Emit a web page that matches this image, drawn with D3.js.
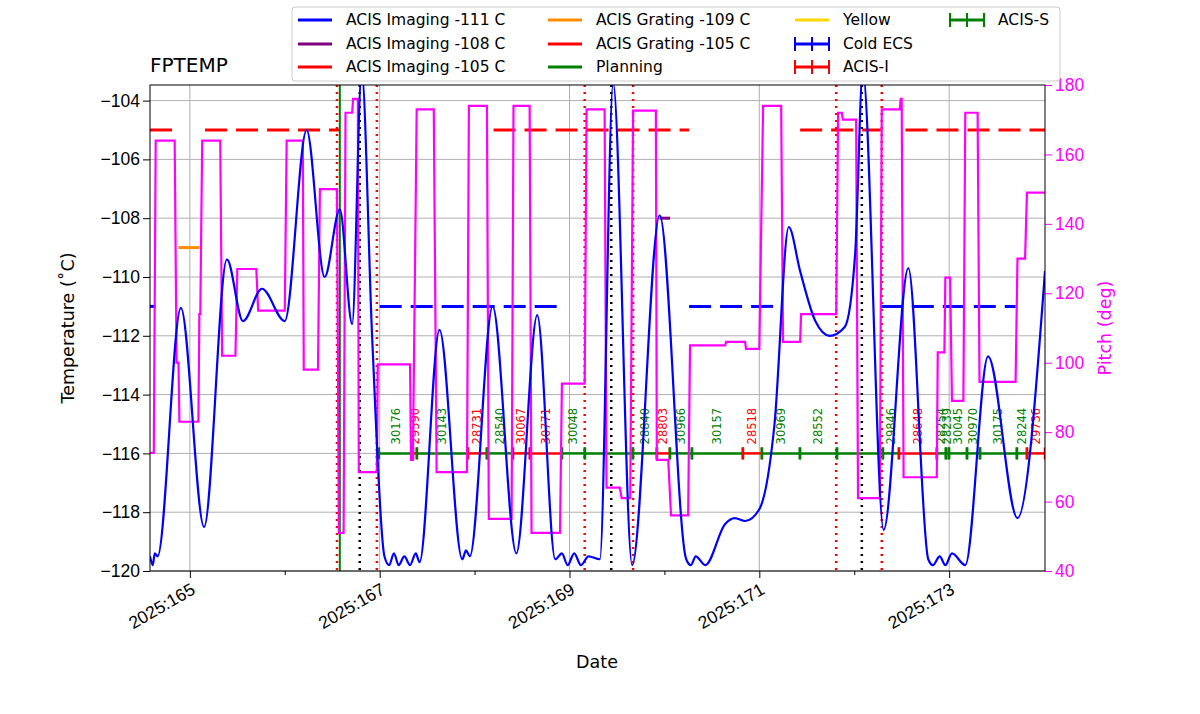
<!DOCTYPE html>
<html><head><meta charset="utf-8">
<script src="https://cdn.jsdelivr.net/npm/d3@7"></script>
<style>body{margin:0;background:#fff}svg{font-family:"DejaVu Sans",sans-serif}</style>
</head><body><svg id="c" width="1200" height="714"></svg>
<script>
// temperature trace (day of year, deg C)
const tempDays = [164.58,164.61,164.63,164.66,164.905,165.15,165.39,165.56,165.76,166.0,166.23,166.42,166.58,166.71,166.81,166.92,167.05,167.1,167.15,167.2,167.26,167.32,167.38,167.42,167.63,167.87,167.91,167.95,168.19,168.44,168.66,168.85,168.92,168.98,169.05,169.12,169.2,169.32,169.46,169.66,169.95,170.23,170.28,170.33,170.43,170.64,170.74,170.85,171.0,171.16,171.31,171.43,171.59,171.74,171.9,172.01,172.09,172.31,172.57,172.78,172.83,172.9,172.96,173.03,173.17,173.41,173.72,174.01];
const tempVals = [-119.5,-119.8,-119.4,-119.5,-111.05,-118.5,-109.4,-111.5,-110.4,-111.5,-105.0,-110.0,-107.7,-111.6,-103.0,-112.0,-119.5,-119.8,-119.4,-119.8,-119.5,-119.8,-119.4,-119.7,-111.8,-119.6,-119.3,-119.5,-111.0,-119.4,-111.3,-119.6,-119.4,-119.8,-119.4,-119.8,-119.5,-119.6,-103.4,-119.8,-107.9,-119.6,-119.8,-119.5,-119.8,-118.4,-118.2,-118.3,-117.9,-115.0,-108.3,-109.8,-111.5,-112.0,-111.7,-109.2,-103.0,-118.6,-109.7,-119.6,-119.8,-119.5,-119.8,-119.4,-119.8,-112.7,-118.2,-109.8];

// pitch steps [start day, end day, pitch deg]
const pitchSteps = [[164.58,164.62,74],[164.64,164.84,164],[164.86,164.88,100],[164.89,165.09,83],[165.10,165.11,114],[165.13,165.32,164],[165.34,165.48,102],[165.50,165.70,127],[165.72,166.0,115],[166.02,166.19,164],[166.20,166.35,98],[166.37,166.55,150],[166.57,166.62,51],[166.64,166.71,172],[166.72,166.77,176],[166.78,166.97,68.5],[166.98,167.32,99.5],[167.33,167.35,72],[167.39,167.57,173],[167.60,167.92,68.5],[167.94,168.13,174],[168.15,168.39,55],[168.41,168.58,174],[168.60,168.90,51],[168.92,169.16,94],[169.18,169.37,173],[169.39,169.53,64],[169.55,169.64,61],[169.67,169.91,172.6],[169.92,170.04,72],[170.07,170.25,56],[170.27,170.64,105],[170.65,170.85,106],[170.86,171.0,104],[171.04,171.23,174],[171.25,171.43,106],[171.44,171.81,114],[171.83,171.87,172],[171.88,172.02,170],[172.04,172.27,61],[172.29,172.48,173],[172.49,172.50,176],[172.52,172.87,67],[172.88,172.95,103],[172.96,173.01,124.5],[173.03,173.15,89],[173.17,173.30,172],[173.32,173.70,94.5],[173.72,173.80,130],[173.82,174.01,149]];

// limit segments [start, end]
const limRed105 = [[164.58,164.85],[165.16,166.58],[168.2,170.26],[171.43,172.28],[172.54,174.01]];
const limBlue111 = [[164.58,164.64],[167.0,168.96],[170.26,171.2],[172.28,173.7]];
const limOrange109 = [[164.88,165.1]];
const limPurple108 = [[169.95,170.06]];

const redDotted = [166.55,166.97,169.16,169.67,171.81,172.29];
const blackDotted = [166.79,169.44,172.08];
const planning = [166.58];

// observations [start, end, obsid, instrument]
const obs = [[166.992,167.350,"30176","S"],[167.350,167.392,"29590","I"],[167.392,167.929,"30143","S"],[167.929,168.130,"28731","I"],[168.130,168.404,"28540","S"],[168.404,168.583,"30067","I"],[168.583,168.920,"30771","I"],[168.920,169.162,"30048","S"],[169.162,169.668,"","S"],[169.668,169.921,"28840","S"],[169.921,170.058,"28803","I"],[170.058,170.290,"30966","S"],[170.290,170.827,"30157","S"],[170.827,171.027,"28518","I"],[171.027,171.428,"30969","S"],[171.428,171.818,"28552","S"],[171.818,172.302,"","S"],[172.302,172.471,"29846","S"],[172.471,172.871,"28648","I"],[172.871,172.966,"28254","S"],[172.966,172.998,"28239","S"],[172.998,173.188,"30045","S"],[173.188,173.325,"30970","S"],[173.325,173.714,"30175","S"],[173.714,173.820,"28244","S"],[173.820,174.01,"29736","I"]];

const xTicks = [165,167,169,171,173];
const yTicks = [-120,-118,-116,-114,-112,-110,-108,-106,-104];
const pTicks = [40,60,80,100,120,140,160,180];

const svg = d3.select('#c');
const L = 150, R = 1045, T = 85, B = 571;
const x = d3.scaleLinear().domain([164.58, 174.01]).range([L, R]);
const y = d3.scaleLinear().domain([-120, -103.47]).range([B, T]);
const yp = d3.scaleLinear().domain([40, 180]).range([B, T]);
const minus = v => String(v).replace('-', '\u2212');

// grid
const g = svg.append('g');
g.selectAll('.gx').data(xTicks).join('line').attr('x1', d => x(d)).attr('x2', d => x(d)).attr('y1', T).attr('y2', B).attr('stroke', '#b0b0b0');
g.selectAll('.gy').data(yTicks).join('line').attr('y1', d => y(d)).attr('y2', d => y(d)).attr('x1', L).attr('x2', R).attr('stroke', '#b0b0b0');

const plot = svg.append('g');
svg.append('clipPath').attr('id', 'clip').append('rect').attr('x', L).attr('y', T).attr('width', R - L).attr('height', B - T);
plot.attr('clip-path', 'url(#clip)');

// limits
const drawLim = (segs, v, col) => plot.selectAll(null).data(segs).join('line')
  .attr('x1', d => x(d[0])).attr('x2', d => x(d[1])).attr('y1', y(v)).attr('y2', y(v))
  .attr('stroke', col).attr('stroke-width', 3).attr('stroke-dasharray', '22,9');
drawLim(limRed105, -105, 'red');
drawLim(limBlue111, -111, 'blue');
drawLim(limOrange109, -109, 'darkorange');
drawLim(limPurple108, -108, 'purple');

// vertical lines
plot.selectAll(null).data(redDotted).join('line').attr('x1', d => x(d)).attr('x2', d => x(d)).attr('y1', T).attr('y2', B)
  .attr('stroke', 'red').attr('stroke-width', 2.5).attr('stroke-dasharray', '2,5');
plot.selectAll(null).data(blackDotted).join('line').attr('x1', d => x(d)).attr('x2', d => x(d)).attr('y1', T).attr('y2', B)
  .attr('stroke', 'black').attr('stroke-width', 2.5).attr('stroke-dasharray', '2,5');
plot.selectAll(null).data(planning).join('line').attr('x1', d => x(d)).attr('x2', d => x(d)).attr('y1', T).attr('y2', B)
  .attr('stroke', 'green').attr('stroke-width', 2);

// observations
const obsY = y(-116);
const obsCol = d => d[3] === 'I' ? 'red' : 'green';
plot.selectAll(null).data(obs).join('line').attr('x1', d => x(d[0])).attr('x2', d => x(d[1])).attr('y1', obsY).attr('y2', obsY)
  .attr('stroke', obsCol).attr('stroke-width', 2.5);
plot.selectAll(null).data(obs.flatMap(d => [[d[0], d[3]], [d[1], d[3]]])).join('line')
  .attr('x1', d => x(d[0])).attr('x2', d => x(d[0])).attr('y1', obsY - 6).attr('y2', obsY + 6)
  .attr('stroke', d => d[1] === 'I' ? 'red' : 'green').attr('stroke-width', 2.5);
plot.selectAll(null).data(obs.filter(d => d[2])).join('text')
  .attr('transform', d => `translate(${x((d[0] + d[1]) / 2) + 4},${obsY - 9}) rotate(-90)`)
  .attr('font-size', 11.5).attr('fill', obsCol).text(d => d[2]);

// pitch
const pts = pitchSteps.flatMap(d => [[d[0], d[2]], [d[1], d[2]]]);
plot.append('path').datum(pts).attr('fill', 'none').attr('stroke', 'magenta').attr('stroke-width', 2.2)
  .attr('d', d3.line().x(d => x(d[0])).y(d => yp(d[1])));

// temperature
plot.append('path').datum(d3.zip(tempDays, tempVals)).attr('fill', 'none').attr('stroke', 'blue').attr('stroke-width', 2.2)
  .attr('d', d3.line().x(d => x(d[0])).y(d => y(d[1])).curve(d3.curveMonotoneX));

// axes
const ax = svg.append('g').attr('transform', `translate(0,${B})`)
  .call(d3.axisBottom(x).tickValues(d3.range(165, 174)).tickSize(6).tickFormat(d => xTicks.includes(d) ? '2025:' + d : ''));
ax.selectAll('.tick line').attr('y2', d => xTicks.includes(d) ? 7 : 4);
ax.selectAll('text').attr('font-size', 17.5).attr('text-anchor', 'end').attr('dy', 0).attr('y', 0).attr('transform', 'translate(6,22) rotate(-30)');
const ay = svg.append('g').attr('transform', `translate(${L},0)`)
  .call(d3.axisLeft(y).tickValues(yTicks).tickSize(7).tickFormat(minus));
ay.selectAll('text').attr('font-size', 17.5);
const ar = svg.append('g').attr('transform', `translate(${R},0)`)
  .call(d3.axisRight(yp).tickValues(pTicks).tickSize(7));
ar.selectAll('text').attr('font-size', 17.5).attr('fill', 'magenta');
ar.selectAll('line').attr('stroke', 'magenta');
svg.selectAll('.domain').remove();
svg.append('rect').attr('x', L).attr('y', T).attr('width', R - L).attr('height', B - T).attr('fill', 'none').attr('stroke', 'black');

svg.append('text').attr('x', 597).attr('y', 668).attr('text-anchor', 'middle').attr('font-size', 17.5).text('Date');
svg.append('text').attr('transform', 'translate(74,328) rotate(-90)').attr('text-anchor', 'middle').attr('font-size', 17.5).text('Temperature (\u02daC)');
svg.append('text').attr('transform', 'translate(1111,328) rotate(-90)').attr('text-anchor', 'middle').attr('font-size', 17.5).attr('fill', 'magenta').text('Pitch (deg)');
svg.append('text').attr('x', 150).attr('y', 72).attr('font-size', 20).text('FPTEMP');

// legend
const legNames = ['ACIS Imaging -111 C','ACIS Imaging -108 C','ACIS Imaging -105 C','ACIS Grating -109 C','ACIS Grating -105 C','Planning','Yellow','Cold ECS','ACIS-I','ACIS-S'];
const legCols = ['blue','purple','red','darkorange','red','green','gold','blue','red','green'];
const legBar = [0,0,0,0,0,0,0,1,1,1];
const colX = [298, 548, 795, 950];
const rowY = [20, 44, 67];
svg.append('rect').attr('x', 292).attr('y', 7).attr('width', 768).attr('height', 74).attr('rx', 3)
  .attr('fill', 'white').attr('stroke', '#ccc');
const lg = svg.append('g').selectAll('g').data(legNames.map((n, i) => ({ n, c: legCols[i], bar: legBar[i], i }))).join('g')
  .attr('transform', d => `translate(${colX[Math.floor(d.i / 3)]},${rowY[d.i % 3]})`);
lg.append('line').attr('x1', 0).attr('x2', 34).attr('stroke', d => d.c).attr('stroke-width', 3);
lg.filter(d => d.bar).selectAll('.cap').data(d => [0, 17, 34].map(px => ({ px, c: d.c }))).join('line')
  .attr('x1', e => e.px).attr('x2', e => e.px).attr('y1', -7).attr('y2', 7).attr('stroke', e => e.c).attr('stroke-width', 2);
lg.append('text').attr('x', 48).attr('y', 5).attr('font-size', 15.5).text(d => d.n);
</script></body></html>
